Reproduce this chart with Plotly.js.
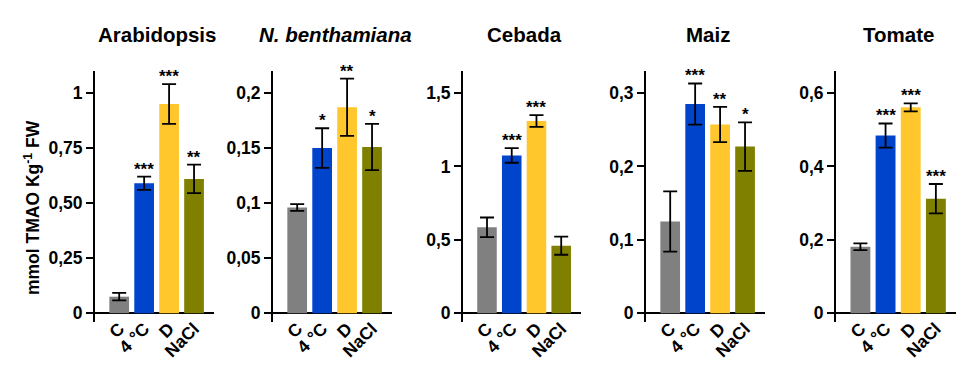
<!DOCTYPE html>
<html>
<head>
<meta charset="utf-8">
<script src="https://cdn.plot.ly/plotly-3.0.1.min.js"></script>
<style>html,body{margin:0;padding:0;background:#fff}#chart{width:979px;height:380px}</style>
</head>
<body>
<div id="chart"></div>
<script>
// ---- data ----
const categories = ["C", "4 °C", "D", "NaCl"];
const species = ["Arabidopsis", "<i>N. benthamiana</i>", "Cebada", "Maiz", "Tomate"];

const arabidopsis = [0.075, 0.59, 0.95, 0.61];
const arabidopsisErr = [0.017, 0.03, 0.09, 0.065];
const arabidopsisSig = ["", "***", "***", "**"];

const benthamiana = [0.096, 0.150, 0.187, 0.151];
const benthamianaErr = [0.003, 0.018, 0.026, 0.021];
const benthamianaSig = ["", "*", "**", "*"];

const cebada = [0.585, 1.075, 1.31, 0.46];
const cebadaErr = [0.067, 0.05, 0.04, 0.062];
const cebadaSig = ["", "***", "***", ""];

const maiz = [0.125, 0.285, 0.257, 0.227];
const maizErr = [0.041, 0.028, 0.024, 0.033];
const maizSig = ["", "***", "**", "*"];

const tomate = [0.181, 0.484, 0.561, 0.312];
const tomateErr = [0.009, 0.033, 0.011, 0.04];
const tomateSig = ["", "***", "***", "***"];

const yTickVals = [
  [0, 0.25, 0.5, 0.75, 1],
  [0, 0.05, 0.1, 0.15, 0.2],
  [0, 0.5, 1, 1.5],
  [0, 0.1, 0.2, 0.3],
  [0, 0.2, 0.4, 0.6]
];
const yTickText = [
  ["0", "0,25", "0,50", "0,75", "1"],
  ["0", "0,05", "0,1", "0,15", "0,2"],
  ["0", "0,5", "1", "1,5"],
  ["0", "0,1", "0,2", "0,3"],
  ["0", "0,2", "0,4", "0,6"]
];
const yLabel = "mmol TMAO Kg<sup>-1</sup> FW";

// ---- styling / layout ----
const colors = ["#808080", "#0044CC", "#FFC72C", "#7F7F00"];
const FONT = "Liberation Sans, Arial, Helvetica, sans-serif";
const W = 979, H = 380;
const xDomPx = [[95, 214], [273, 392], [463, 581], [646, 765], [836, 956]];
const yDomPx = [71, 322];

const values = [arabidopsis, benthamiana, cebada, maiz, tomate];
const errs = [arabidopsisErr, benthamianaErr, cebadaErr, maizErr, tomateErr];
const sigs = [arabidopsisSig, benthamianaSig, cebadaSig, maizSig, tomateSig];

const traces = [];
const layout = {
  width: W, height: H,
  margin: {l: 0, r: 0, t: 0, b: 0},
  paper_bgcolor: "#fff", plot_bgcolor: "#fff",
  showlegend: false,
  font: {family: FONT, color: "#000", size: 17, weight: "bold"},
  annotations: []
};

for (let i = 0; i < 5; i++) {
  const n = i === 0 ? "" : String(i + 1);
  traces.push({
    type: "bar",
    x: categories,
    y: values[i],
    xaxis: "x" + n,
    yaxis: "y" + n,
    width: 0.79,
    marker: {color: colors, line: {width: 0}},
    error_y: {type: "data", array: errs[i], visible: true, color: "#000", thickness: 1.8, width: 7},
    hoverinfo: "x+y"
  });
  const maxTick = yTickVals[i][yTickVals[i].length - 1];
  layout["xaxis" + n] = {
    domain: [xDomPx[i][0] / W, xDomPx[i][1] / W],
    anchor: "y" + n,
    type: "category",
    range: [-0.97, 3.8],
    showline: false, showgrid: false, zeroline: false,
    ticks: "", tickangle: -45,
    ticklabelstandoff: -8,
    tickfont: {family: FONT, size: 17.5, color: "#000", weight: "bold"},
    fixedrange: true
  };
  layout["yaxis" + n] = {
    domain: [1 - yDomPx[1] / H, 1 - yDomPx[0] / H],
    anchor: "x" + n,
    range: [-0.04 * maxTick, 1.1 * maxTick],
    tickvals: yTickVals[i], ticktext: yTickText[i],
    showline: true, linecolor: "#000", linewidth: 2,
    ticks: "outside", ticklen: 7, tickwidth: 2, tickcolor: "#000",
    showgrid: false,
    zeroline: true, zerolinecolor: "#000", zerolinewidth: 2,
    tickfont: {family: FONT, size: 17.5, color: "#000", weight: "bold"},
    fixedrange: true
  };
  // panel title
  layout.annotations.push({
    xref: "paper", yref: "paper",
    x: (xDomPx[i][0] + xDomPx[i][1]) / 2 / W + 0.003, y: 1 - 35 / H,
    xanchor: "center", yanchor: "middle",
    text: "<b>" + species[i] + "</b>",
    showarrow: false,
    font: {family: FONT, size: 20.5, color: "#000"}
  });
  // significance
  for (let j = 0; j < categories.length; j++) {
    if (!sigs[i][j]) continue;
    layout.annotations.push({
      xref: "x" + n, yref: "y" + n,
      x: categories[j], y: values[i][j] + errs[i][j],
      xanchor: "center", yanchor: "bottom",
      text: "<b>" + sigs[i][j] + "</b>",
      showarrow: false, yshift: -4,
      font: {family: FONT, size: 17, color: "#000"}
    });
  }
}

// y-axis title
layout.annotations.push({
  xref: "paper", yref: "paper",
  x: 32 / W, y: 1 - 208 / H,
  xanchor: "center", yanchor: "middle",
  textangle: -90,
  text: "<b>" + yLabel + "</b>",
  showarrow: false,
  font: {family: FONT, size: 17.5, color: "#000"}
});

Plotly.newPlot("chart", traces, layout, {displayModeBar: false, staticPlot: true});
</script>
</body>
</html>
